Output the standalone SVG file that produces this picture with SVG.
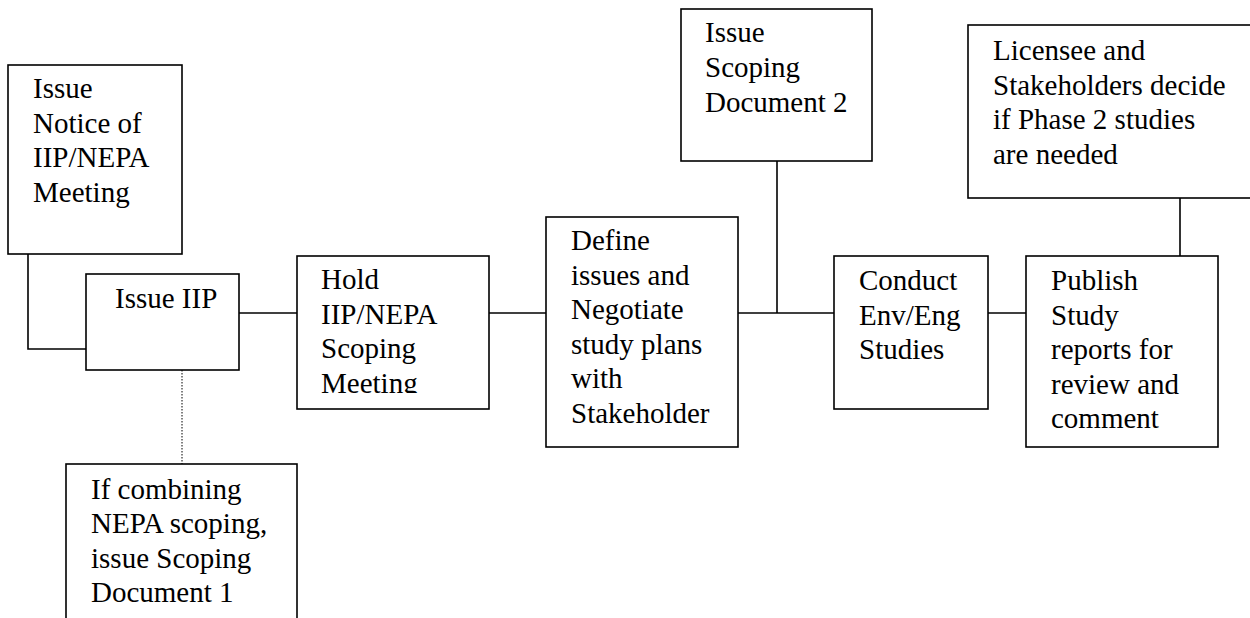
<svg xmlns="http://www.w3.org/2000/svg" width="1250" height="618" viewBox="0 0 1250 618">
<style>
.box{fill:#fff;stroke:#000;stroke-width:1.6}
.t{font-family:"Liberation Serif","Times New Roman",serif;font-size:29px;fill:#000}
.c{fill:none;stroke:#000;stroke-width:1.6}
.d{fill:none;stroke:#000;stroke-width:1;stroke-dasharray:1.5 1.5}
</style>
<defs>
<clipPath id="holdClip"><rect x="297" y="256" width="192" height="137"/></clipPath>
</defs>
<rect width="1250" height="618" fill="#fff"/>
<g id="connectors">
<path class="c" d="M28,254 V349 H86"/>
<path class="c" d="M239,313 H297"/>
<path class="c" d="M489,313 H546"/>
<path class="c" d="M738,313 H834"/>
<path class="c" d="M777,161 V313"/>
<path class="c" d="M988,313 H1026"/>
<path class="c" d="M1180,198 V256"/>
<path class="d" d="M182,370 V464"/>
</g>
<g id="notice">
<rect class="box" x="8" y="65" width="174" height="189"/>
<text class="t" x="33" y="98">Issue</text>
<text class="t" x="33" y="132.5">Notice of</text>
<text class="t" x="33" y="167">IIP/NEPA</text>
<text class="t" x="33" y="201.5">Meeting</text>
</g>
<g id="issueIIP">
<rect class="box" x="86" y="274" width="153" height="96"/>
<text class="t" x="115" y="308">Issue IIP</text>
</g>
<g id="hold">
<rect class="box" x="297" y="256" width="192" height="153"/>
<g clip-path="url(#holdClip)">
<text class="t" x="321" y="289">Hold</text>
<text class="t" x="321" y="323.5">IIP/NEPA</text>
<text class="t" x="321" y="358">Scoping</text>
<text class="t" x="321" y="392.5">Meeting</text>
</g>
</g>
<g id="define">
<rect class="box" x="546" y="217" width="192" height="230"/>
<text class="t" x="571" y="250">Define</text>
<text class="t" x="571" y="284.5">issues and</text>
<text class="t" x="571" y="319">Negotiate</text>
<text class="t" x="571" y="353.5">study plans</text>
<text class="t" x="571" y="388">with</text>
<text class="t" x="571" y="422.5">Stakeholder</text>
</g>
<g id="scoping2">
<rect class="box" x="681" y="9" width="191" height="152"/>
<text class="t" x="705" y="42">Issue</text>
<text class="t" x="705" y="77">Scoping</text>
<text class="t" x="705" y="112">Document 2</text>
</g>
<g id="conduct">
<rect class="box" x="834" y="256" width="154" height="153"/>
<text class="t" x="859" y="290">Conduct</text>
<text class="t" x="859" y="324.5">Env/Eng</text>
<text class="t" x="859" y="359">Studies</text>
</g>
<g id="publish">
<rect class="box" x="1026" y="256" width="192" height="191"/>
<text class="t" x="1051" y="290">Publish</text>
<text class="t" x="1051" y="324.5">Study</text>
<text class="t" x="1051" y="359">reports for</text>
<text class="t" x="1051" y="393.5">review and</text>
<text class="t" x="1051" y="428">comment</text>
</g>
<g id="licensee">
<rect class="box" x="968" y="25" width="300" height="173"/>
<text class="t" x="993" y="60">Licensee and</text>
<text class="t" x="993" y="94.5">Stakeholders decide</text>
<text class="t" x="993" y="129">if Phase 2 studies</text>
<text class="t" x="993" y="163.5">are needed</text>
</g>
<g id="combining">
<rect class="box" x="66" y="464" width="231" height="170"/>
<text class="t" x="91" y="498.5">If combining</text>
<text class="t" x="91" y="533">NEPA scoping,</text>
<text class="t" x="91" y="567.5">issue Scoping</text>
<text class="t" x="91" y="602">Document 1</text>
</g>
</svg>
